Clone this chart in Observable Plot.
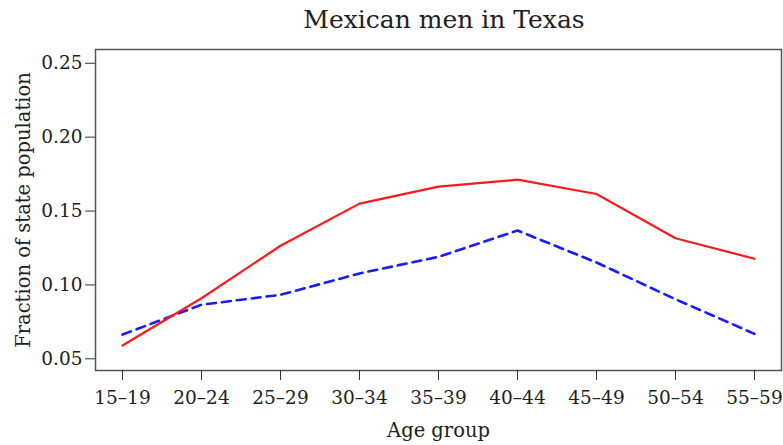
<!DOCTYPE html>
<html>
<head>
<meta charset="utf-8">
<script src="https://cdn.jsdelivr.net/npm/d3@7"></script>
<script src="https://cdn.jsdelivr.net/npm/@observablehq/plot@0.6"></script>
<style>
  html, body { margin: 0; padding: 0; background: #fff; }
  #chart { width: 783px; font-family: "DejaVu Serif", serif; }
  #title { height: 40px; margin: 0; font-weight: normal; font-size: 25px; line-height: 40px;
           text-align: center; padding-left: 105px; box-sizing: border-box; color: #222; }
  svg { display: block; }
</style>
</head>
<body>
<div id="chart">
  <h2 id="title">Mexican men in Texas</h2>
</div>
<script>
// Age groups along the x axis
const ageGroups = ["15–19", "20–24", "25–29", "30–34", "35–39", "40–44", "45–49", "50–54", "55–59"];
// Fraction of the state population in each age group
const solidSeries = [0.059, 0.091, 0.1265, 0.155, 0.1665, 0.1712, 0.1615, 0.1316, 0.1177];
const dashedSeries = [0.0664, 0.0866, 0.0933, 0.1078, 0.119, 0.1368, 0.1152, 0.0903, 0.0669];
const yTicks = [0.05, 0.10, 0.15, 0.20, 0.25];

const solid = ageGroups.map((age, i) => ({age, value: solidSeries[i]}));
const dashed = ageGroups.map((age, i) => ({age, value: dashedSeries[i]}));

const chart = Plot.plot({
  width: 783,
  height: 405,
  marginTop: 9,
  marginBottom: 75,
  marginLeft: 95,
  marginRight: 2,
  style: {fontFamily: "DejaVu Serif, serif", fontSize: "18.5px", color: "#222"},
  x: {type: "point", domain: ageGroups, padding: 0, inset: 25},
  y: {domain: [0.0421, 0.2593]},
  marks: [
    Plot.frame({stroke: "#555", strokeWidth: 1.5}),
    Plot.axisX({ticks: ageGroups, tickSize: 10, tickPadding: 10, stroke: "#333",
                label: null, fontSize: 18.5}),
    Plot.axisX({ticks: [], label: "Age group", labelAnchor: "center", labelArrow: "none",
                labelOffset: 66, fontSize: 19.5}),
    Plot.axisY({ticks: yTicks, tickFormat: ".2f", tickSize: 10, tickPadding: 3, stroke: "#333",
                label: null, fontSize: 18.5}),
    Plot.axisY({ticks: [], label: "Fraction of state population", labelAnchor: "center",
                labelArrow: "none", labelOffset: 79, fontSize: 19.5}),
    Plot.line(dashed, {x: "age", y: "value", stroke: "#1a1aff", strokeWidth: 2.6,
                       strokeDasharray: "9,6"}),
    Plot.line(solid, {x: "age", y: "value", stroke: "#ff1a1a", strokeWidth: 2.2})
  ]
});
document.getElementById("chart").appendChild(chart);
</script>
</body>
</html>
